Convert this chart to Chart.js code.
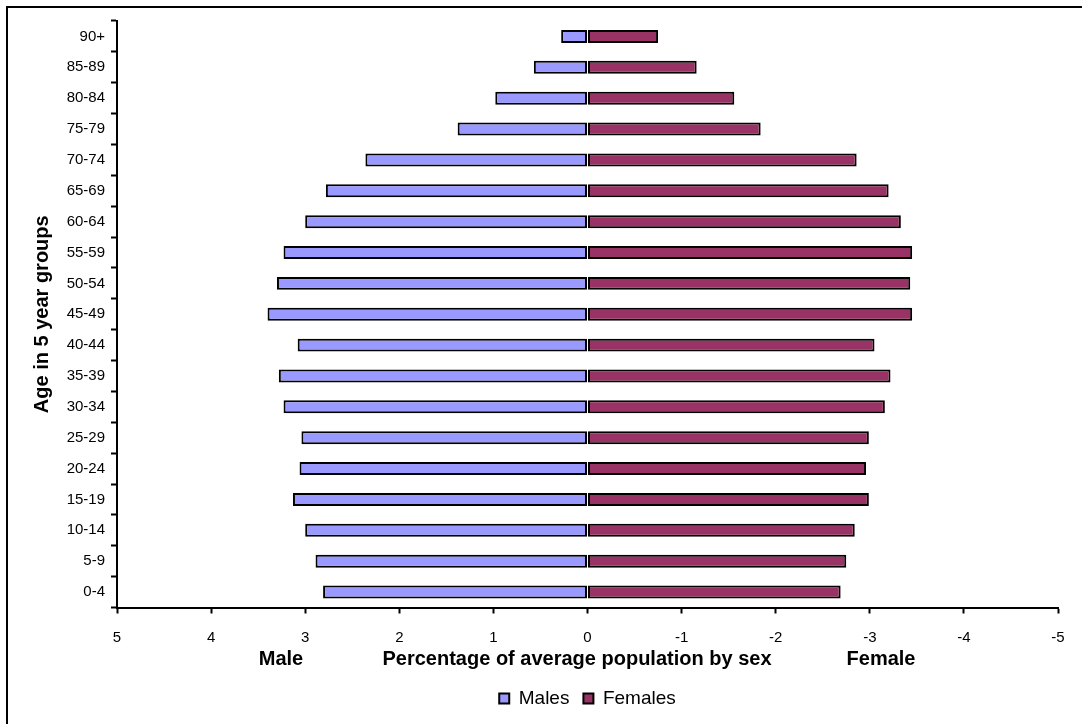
<!DOCTYPE html>
<html>
<head>
<meta charset="utf-8">
<script src="https://cdn.jsdelivr.net/npm/chart.js@4/dist/chart.umd.min.js"></script>
<style>
  html, body { margin: 0; padding: 0; background: #fff; }
  #wrap { width: 1082px; height: 724px; }
</style>
</head>
<body>
<div id="wrap"><canvas id="pyramid" width="1082" height="724"></canvas></div>
<script>
// Age groups, bottom to top
const ageGroups = ['0-4', '5-9', '10-14', '15-19', '20-24', '25-29', '30-34', '35-39', '40-44',
    '45-49', '50-54', '55-59', '60-64', '65-69', '70-74', '75-79', '80-84', '85-89', '90+'];

// Percentage of average population (males plotted positive, females negative)
const males = [2.81, 2.89, 3.00, 3.13, 3.06, 3.04, 3.23, 3.28, 3.08,
    3.40, 3.30, 3.23, 3.00, 2.78, 2.36, 1.38, 0.98, 0.57, 0.28];
const females = [-2.69, -2.75, -2.84, -2.99, -2.96, -2.99, -3.16, -3.22, -3.05,
    -3.45, -3.43, -3.45, -3.33, -3.20, -2.86, -1.84, -1.56, -1.16, -0.75];

const xTicks = [5, 4, 3, 2, 1, 0, -1, -2, -3, -4, -5];

const FONT = 'Arial, "Liberation Sans", sans-serif';

// outer frame + the three labels under the x axis
const extras = {
    id: 'extras',
    beforeDraw(chart) {
        const ctx = chart.ctx;
        ctx.save();
        ctx.fillStyle = '#fff';
        ctx.fillRect(0, 0, chart.width, chart.height);
        ctx.strokeStyle = '#000';
        ctx.lineWidth = 2;
        ctx.strokeRect(7, 7, 2000, 2000);
        ctx.restore();
    },
    afterDraw(chart) {
        const ctx = chart.ctx;
        ctx.save();
        ctx.fillStyle = '#000';
        ctx.font = 'bold 20px ' + FONT;
        ctx.textAlign = 'center';
        ctx.textBaseline = 'middle';
        ctx.fillText('Male', 281, 659);
        ctx.fillText('Percentage of average population by sex', 577, 659);
        ctx.fillText('Female', 881, 659);
        ctx.restore();
    }
};

new Chart(document.getElementById('pyramid'), {
    type: 'bar',
    data: {
        labels: ageGroups,
        datasets: [
            {
                label: 'Males',
                data: males,
                backgroundColor: '#9999FF',
                borderColor: '#000',
                borderWidth: 2,
                borderSkipped: false,
                barPercentage: 0.42,
                categoryPercentage: 1.0
            },
            {
                label: 'Females',
                data: females,
                backgroundColor: '#993366',
                borderColor: '#000',
                borderWidth: 2,
                borderSkipped: false,
                barPercentage: 0.42,
                categoryPercentage: 1.0
            }
        ]
    },
    options: {
        indexAxis: 'y',
        responsive: false,
        animation: false,
        layout: { padding: { top: 21, right: 24, left: 0, bottom: 6 } },
        scales: {
            x: {
                type: 'linear',
                stacked: true,
                min: -5,
                max: 5,
                reverse: true,
                afterBuildTicks: s => { s.ticks = xTicks.map(v => ({ value: v })); },
                afterFit: s => { s.height = 67.5; },
                ticks: { color: '#000', padding: 15, font: { family: FONT, size: 15 } },
                grid: { drawOnChartArea: false, drawTicks: true, tickLength: 6, tickColor: '#000', tickWidth: 2 },
                border: { color: '#000', width: 2 }
            },
            y: {
                stacked: true,
                reverse: true,
                afterFit: s => { s.width = 117; },
                ticks: { color: '#000', padding: 6, font: { family: FONT, size: 15 } },
                grid: { drawOnChartArea: false, drawTicks: true, tickLength: 6, tickColor: '#000', tickWidth: 2 },
                border: { color: '#000', width: 2 },
                title: {
                    display: true,
                    text: 'Age in 5 year groups',
                    color: '#000',
                    font: { family: FONT, size: 20, weight: 'bold' },
                    padding: { top: 30, bottom: 0 }
                }
            }
        },
        plugins: {
            legend: {
                position: 'bottom',
                fullSize: false,
                labels: {
                    color: '#000',
                    boxWidth: 10,
                    boxHeight: 10,
                    padding: 14,
                    font: { family: FONT, size: 19 }
                }
            },
            tooltip: { enabled: false }
        }
    },
    plugins: [extras]
});
</script>
</body>
</html>
